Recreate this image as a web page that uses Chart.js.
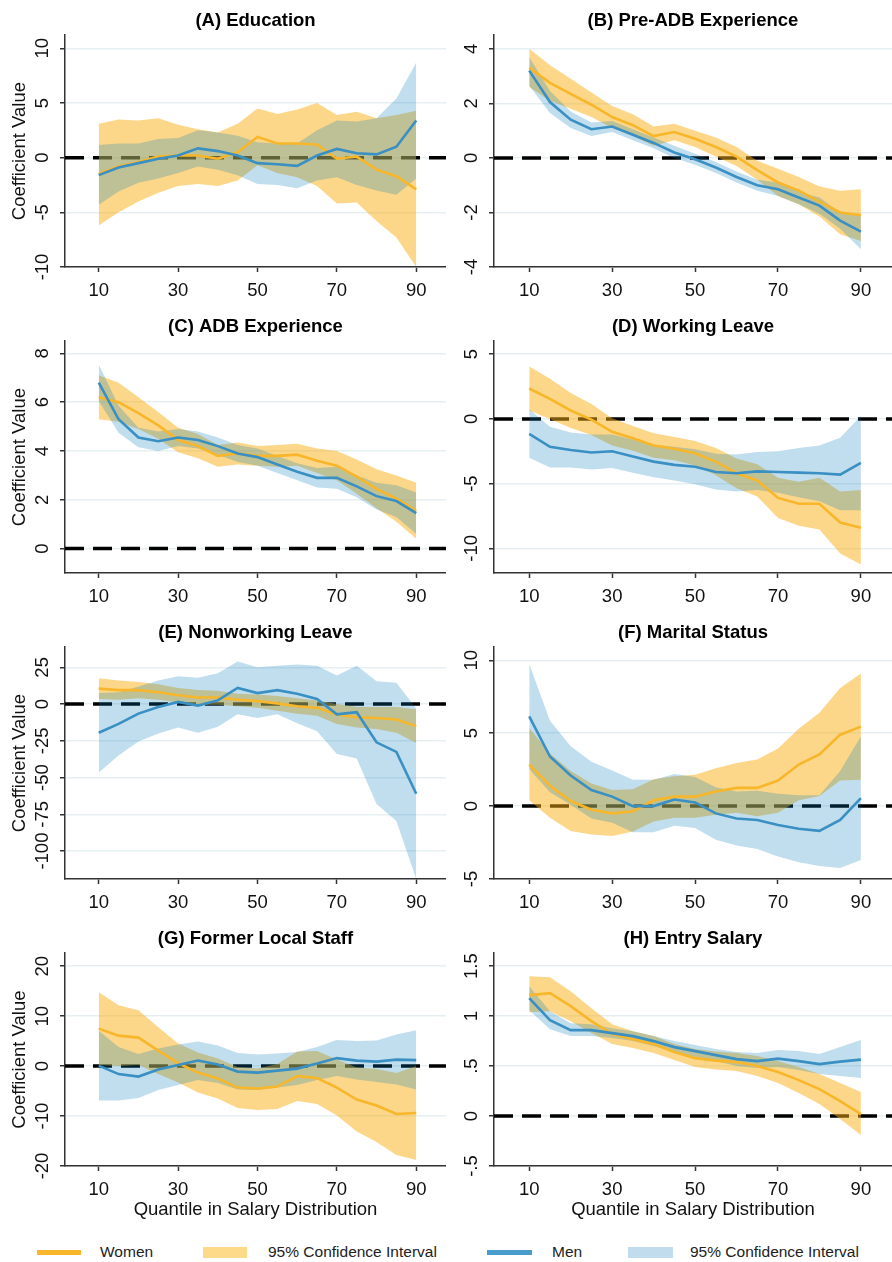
<!DOCTYPE html>
<html>
<head>
<meta charset="utf-8">
<script src="https://cdn.jsdelivr.net/npm/chart.js@4.4.1/dist/chart.umd.min.js"></script>
<style>
  body { margin: 0; background: #fff; width: 892px; height: 1262px; position: relative; overflow: hidden;
         font-family: 'Liberation Sans', Arial, sans-serif; }
  canvas { position: absolute; }
  .sw { position: absolute; }
  .lt { position: absolute; top: 1243px; font-size: 15.5px; line-height: 18px; color: #222; white-space: nowrap; }
</style>
</head>
<body>
<canvas id="pA" width="446" height="306" style="left:0;top:0"></canvas>
<canvas id="pB" width="446" height="306" style="left:446px;top:0"></canvas>
<canvas id="pC" width="446" height="306" style="left:0;top:306px"></canvas>
<canvas id="pD" width="446" height="306" style="left:446px;top:306px"></canvas>
<canvas id="pE" width="446" height="306" style="left:0;top:612px"></canvas>
<canvas id="pF" width="446" height="306" style="left:446px;top:612px"></canvas>
<canvas id="pG" width="446" height="312" style="left:0;top:918px"></canvas>
<canvas id="pH" width="446" height="312" style="left:446px;top:918px"></canvas>

<!-- legend -->
<div class="sw" style="left:37px;top:1250px;width:44px;height:5px;background:#f8b62b"></div>
<span class="lt" style="left:100px">Women</span>
<div class="sw" style="left:203px;top:1247px;width:44px;height:11px;background:#fdd98a"></div>
<span class="lt" style="left:268px">95% Confidence Interval</span>
<div class="sw" style="left:487px;top:1250px;width:45px;height:5px;background:#4a9ccc"></div>
<span class="lt" style="left:552px">Men</span>
<div class="sw" style="left:628px;top:1247px;width:45px;height:11px;background:#c1dcec"></div>
<span class="lt" style="left:690px">95% Confidence Interval</span>

<script>
// quantiles 10..90
const quantiles = [10, 15, 20, 25, 30, 35, 40, 45, 50, 55, 60, 65, 70, 75, 80, 85, 90];
const xTicks = [10, 30, 50, 70, 90];

// (A) Education
const eduW   = [-1.5, -0.8, -0.4, 0.1, 0.2, 0.2, -0.1, 0.5, 1.9, 1.3, 1.3, 1.2, -0.1, 0.1, -1.1, -1.7, -2.9];
const eduWHi = [3.1, 3.5, 3.4, 3.6, 3.0, 2.6, 2.3, 3.1, 4.5, 4.0, 4.4, 5.0, 3.9, 4.2, 3.6, 3.9, 4.3];
const eduWLo = [-6.2, -5.0, -4.0, -3.2, -2.6, -2.4, -2.6, -2.1, -0.7, -1.4, -1.8, -2.6, -4.2, -4.1, -5.8, -7.3, -10.0];
const eduM   = [-1.6, -0.9, -0.5, -0.1, 0.2, 0.85, 0.6, 0.2, -0.5, -0.6, -0.75, 0.2, 0.8, 0.4, 0.3, 1.0, 3.4];
const eduMHi = [1.15, 1.3, 1.3, 1.7, 1.8, 2.5, 2.3, 2.0, 1.4, 1.3, 1.3, 2.5, 3.4, 3.3, 3.6, 5.4, 8.7];
const eduMLo = [-4.3, -3.1, -2.3, -1.9, -1.4, -0.8, -1.1, -1.6, -2.4, -2.5, -2.8, -2.1, -1.8, -2.5, -3.0, -3.4, -1.9];
const eduTicks = [-10, -5, 0, 5, 10];
const eduLabels = ['-10', '-5', '0', '5', '10'];

// (B) Pre-ADB Experience
const preW   = [3.3, 2.75, 2.35, 1.95, 1.5, 1.2, 0.8, 0.95, 0.7, 0.4, 0.05, -0.45, -0.9, -1.2, -1.6, -2.0, -2.1];
const preWHi = [4.0, 3.4, 2.9, 2.4, 1.9, 1.6, 1.15, 1.25, 1.0, 0.75, 0.4, -0.1, -0.4, -0.7, -1.05, -1.2, -1.15];
const preWLo = [2.6, 2.1, 1.8, 1.5, 1.1, 0.8, 0.45, 0.65, 0.4, 0.05, -0.3, -0.8, -1.4, -1.7, -2.15, -2.8, -3.05];
const preM   = [3.2, 2.05, 1.4, 1.05, 1.15, 0.85, 0.55, 0.2, -0.05, -0.35, -0.7, -1.0, -1.15, -1.45, -1.75, -2.3, -2.7];
const preMHi = [3.7, 2.45, 1.7, 1.3, 1.35, 1.05, 0.75, 0.45, 0.15, -0.15, -0.5, -0.8, -0.9, -1.25, -1.45, -2.0, -2.1];
const preMLo = [2.65, 1.65, 1.1, 0.8, 0.95, 0.65, 0.35, 0.0, -0.25, -0.55, -0.9, -1.2, -1.4, -1.7, -2.05, -2.6, -3.35];
const preTicks = [-4, -2, 0, 2, 4];
const preLabels = ['-4', '-2', '0', '2', '4'];

// (C) ADB Experience
const adbW   = [6.2, 6.0, 5.55, 5.05, 4.45, 4.2, 3.8, 3.9, 3.8, 3.8, 3.85, 3.6, 3.4, 2.95, 2.45, 2.05, 1.55];
const adbWHi = [7.1, 6.8, 6.2, 5.6, 4.95, 4.7, 4.25, 4.35, 4.2, 4.25, 4.3, 4.1, 4.0, 3.65, 3.25, 3.0, 2.7];
const adbWLo = [5.3, 5.2, 4.9, 4.5, 3.95, 3.7, 3.35, 3.45, 3.4, 3.35, 3.4, 3.1, 2.8, 2.25, 1.65, 1.1, 0.4];
const adbM   = [6.8, 5.3, 4.55, 4.4, 4.55, 4.45, 4.2, 3.9, 3.75, 3.45, 3.15, 2.9, 2.9, 2.55, 2.15, 1.95, 1.45];
const adbMHi = [7.55, 5.85, 4.95, 4.8, 4.9, 4.8, 4.55, 4.25, 4.1, 3.8, 3.5, 3.3, 3.35, 3.0, 2.7, 2.6, 2.3];
const adbMLo = [6.05, 4.75, 4.15, 4.0, 4.2, 4.1, 3.85, 3.55, 3.4, 3.1, 2.8, 2.5, 2.45, 2.1, 1.6, 1.3, 0.6];
const adbTicks = [0, 2, 4, 6, 8];
const adbLabels = ['0', '2', '4', '6', '8'];

// (D) Working Leave
const wlW   = [2.35, 1.55, 0.65, -0.05, -1.0, -1.5, -2.05, -2.3, -2.65, -3.3, -4.2, -4.75, -6.1, -6.55, -6.55, -8.0, -8.4];
const wlWHi = [4.05, 3.1, 2.0, 1.15, 0.05, -0.55, -1.1, -1.4, -1.7, -2.25, -3.05, -3.5, -4.55, -4.85, -4.55, -5.6, -5.5];
const wlWLo = [0.65, 0.0, -0.7, -1.25, -2.05, -2.45, -3.0, -3.2, -3.6, -4.35, -5.35, -6.0, -7.65, -8.25, -8.55, -10.4, -11.25];
const wlM   = [-1.15, -2.15, -2.4, -2.6, -2.5, -2.9, -3.3, -3.55, -3.7, -4.1, -4.2, -4.05, -4.1, -4.15, -4.2, -4.3, -3.4];
const wlMHi = [0.75, -0.6, -1.05, -1.2, -1.2, -1.6, -2.0, -2.15, -2.35, -2.7, -2.75, -2.55, -2.5, -2.25, -2.05, -1.45, 0.25];
const wlMLo = [-3.0, -3.75, -3.75, -3.9, -3.8, -4.15, -4.5, -4.75, -5.05, -5.45, -5.6, -5.5, -5.7, -6.05, -6.35, -7.05, -7.05];
const wlTicks = [-10, -5, 0, 5];
const wlLabels = ['-10', '-5', '0', '5'];

// (E) Nonworking Leave
const nwW   = [10.5, 9.5, 9.5, 8, 6, 4.5, 4.5, 3, 2, 0.5, -1.5, -2.5, -7, -9, -9.5, -10.5, -15];
const nwWHi = [17.5, 16, 15, 13.5, 11, 9.5, 9, 7, 6.5, 5.5, 4, 2.5, 0, -2, -2, -2, -3.5];
const nwWLo = [3.5, 3, 4, 3, 1, -0.5, -0.5, -1.5, -2.5, -4.5, -6.5, -8, -13.5, -16, -17, -19.5, -26.5];
const nwM   = [-19.5, -13.5, -6.5, -2, 1.5, -1, 2.5, 11, 7.5, 9.5, 7, 3.5, -7, -5.5, -26, -32.5, -61];
const nwMHi = [7.5, 8, 12, 16, 19, 18, 21, 29, 25, 26, 27, 26, 19.5, 26, 15.5, 14.5, -3];
const nwMLo = [-46.5, -35, -25.5, -20, -16, -19.5, -15.5, -7, -9.5, -7, -13, -18.5, -34, -37, -68, -79.5, -119];
const nwTicks = [-100, -75, -50, -25, 0, 25];
const nwLabels = ['-100', '-75', '-50', '-25', '0', '25'];

// (F) Marital Status
const msW   = [2.85, 1.4, 0.35, -0.25, -0.5, -0.35, 0.4, 0.65, 0.65, 1.0, 1.25, 1.25, 1.75, 2.85, 3.55, 4.9, 5.45];
const msWHi = [5.35, 3.6, 2.4, 1.55, 1.1, 1.15, 1.85, 2.05, 2.15, 2.6, 2.95, 3.2, 3.95, 5.3, 6.4, 8.1, 9.1];
const msWLo = [0.4, -0.8, -1.7, -1.95, -2.05, -1.75, -1.05, -0.8, -0.8, -0.6, -0.45, -0.7, -0.45, 0.4, 0.7, 1.75, 1.8];
const msM   = [6.15, 3.4, 2.1, 1.1, 0.65, 0.0, 0.0, 0.45, 0.25, -0.5, -0.85, -0.95, -1.3, -1.55, -1.7, -0.95, 0.55];
const msMHi = [9.75, 5.85, 4.1, 3.05, 2.45, 1.8, 1.8, 2.2, 2.0, 1.3, 1.0, 1.05, 0.85, 0.75, 0.75, 2.4, 4.8];
const msMLo = [2.55, 0.95, 0.1, -0.85, -1.15, -1.8, -1.8, -1.35, -1.5, -2.3, -2.7, -2.95, -3.45, -3.85, -4.1, -4.25, -3.7];
const msTicks = [-5, 0, 5, 10];
const msLabels = ['-5', '0', '5', '10'];

// (G) Former Local Staff
const flW   = [7.5, 6.1, 5.7, 3.1, 0.6, -1.3, -2.5, -4.3, -4.5, -4.1, -2.0, -2.4, -4.3, -6.7, -7.9, -9.6, -9.4];
const flWHi = [14.8, 12.2, 11.2, 7.8, 4.5, 2.7, 1.5, -0.2, -0.5, 0.4, 2.9, 3.0, 1.3, -0.3, -0.6, -1.4, 0.0];
const flWLo = [0.2, 0.0, 0.2, -1.6, -3.3, -5.3, -6.5, -8.4, -8.8, -8.6, -7.0, -7.6, -9.9, -13.1, -15.2, -17.8, -18.8];
const flM   = [0.1, -1.6, -2.1, -0.7, 0.2, 1.1, 0.3, -1.1, -1.3, -0.9, -0.5, 0.5, 1.6, 1.1, 0.9, 1.3, 1.2];
const flMHi = [7.1, 3.8, 2.4, 3.5, 4.3, 4.9, 4.1, 2.6, 2.3, 2.5, 2.8, 3.8, 5.2, 5.0, 5.1, 6.3, 7.2];
const flMLo = [-6.9, -6.9, -6.4, -4.8, -3.8, -2.8, -3.4, -4.7, -4.8, -4.3, -3.8, -2.8, -2.0, -2.7, -3.2, -3.7, -4.7];
const flTicks = [-20, -10, 0, 10, 20];
const flLabels = ['-20', '-10', '0', '10', '20'];

// (H) Entry Salary
const esW   = [1.21, 1.23, 1.1, 0.95, 0.82, 0.77, 0.72, 0.64, 0.58, 0.555, 0.54, 0.5, 0.44, 0.36, 0.27, 0.15, 0.02];
const esWHi = [1.4, 1.39, 1.25, 1.08, 0.92, 0.85, 0.8, 0.72, 0.67, 0.645, 0.63, 0.6, 0.55, 0.49, 0.42, 0.33, 0.24];
const esWLo = [1.04, 1.05, 0.95, 0.83, 0.72, 0.68, 0.63, 0.56, 0.49, 0.465, 0.45, 0.4, 0.33, 0.23, 0.12, -0.03, -0.19];
const esM   = [1.18, 0.96, 0.86, 0.86, 0.83, 0.8, 0.75, 0.69, 0.65, 0.61, 0.57, 0.55, 0.575, 0.55, 0.52, 0.545, 0.565];
const esMHi = [1.3, 1.05, 0.93, 0.92, 0.88, 0.85, 0.8, 0.75, 0.71, 0.67, 0.64, 0.63, 0.66, 0.65, 0.62, 0.69, 0.76];
const esMLo = [1.06, 0.87, 0.8, 0.8, 0.78, 0.75, 0.7, 0.64, 0.59, 0.55, 0.5, 0.48, 0.49, 0.46, 0.42, 0.4, 0.38];
const esTicks = [-0.5, 0, 0.5, 1, 1.5];
const esLabels = ['-.5', '0', '.5', '1', '1.5'];

const FONT = "'Liberation Sans', Arial, sans-serif";
Chart.defaults.font.family = FONT;

const womenLine = '#f8b62b';
const womenCI = 'rgba(250, 175, 20, 0.5)';
const menLine = '#3a8fc3';
const menCI = 'rgba(7, 123, 187, 0.25)';

const xMin = 1.5, xMax = 97.5;

const pts = arr => quantiles.map((q, i) => ({ x: q, y: arr[i] }));

function makeChart(id, title, w, wHi, wLo, m, mHi, mLo, yTicks, yLabels, yMin, yMax, left, bottom) {
    // rotated y tick labels, like the original
    const yLabelPlugin = {
        id: 'yLabels' + id,
        afterDraw(chart) {
            const s = chart.scales.y;
            const ctx = chart.ctx;
            ctx.save();
            ctx.font = '18.5px ' + FONT;
            ctx.fillStyle = '#111';
            ctx.textAlign = 'center';
            ctx.textBaseline = 'middle';
            s.ticks.forEach((t, i) => {
                ctx.save();
                ctx.translate(s.right - 22, s.getPixelForValue(t.value));
                ctx.rotate(-Math.PI / 2);
                ctx.fillText(yLabels[i], 0, 0);
                ctx.restore();
            });
            ctx.restore();
        }
    };

    const noLine = 'rgba(0,0,0,0)';

    new Chart(document.getElementById(id), {
        type: 'line',
        data: {
            datasets: [
                { data: [{ x: xMin, y: 0 }, { x: xMax, y: 0 }], borderColor: '#000', borderWidth: 3.5,
                  borderDash: [19, 9], pointRadius: 0, fill: false, order: 5 },
                { data: pts(wHi), borderColor: noLine, borderWidth: 0, pointRadius: 0, fill: '+1',
                  backgroundColor: womenCI, order: 4 },
                { data: pts(wLo), borderColor: noLine, borderWidth: 0, pointRadius: 0, fill: false, order: 4 },
                { data: pts(mHi), borderColor: noLine, borderWidth: 0, pointRadius: 0, fill: '+1',
                  backgroundColor: menCI, order: 3 },
                { data: pts(mLo), borderColor: noLine, borderWidth: 0, pointRadius: 0, fill: false, order: 3 },
                { data: pts(w), borderColor: womenLine, borderWidth: 2.6, pointRadius: 0, fill: false, order: 2 },
                { data: pts(m), borderColor: menLine, borderWidth: 2.6, pointRadius: 0, fill: false, order: 1 }
            ]
        },
        options: {
            responsive: false,
            animation: false,
            events: [],
            layout: { padding: 0 },
            plugins: {
                legend: { display: false },
                tooltip: { enabled: false },
                title: {
                    display: true, text: title, fullSize: false, color: '#000',
                    font: { size: 18.5, weight: 'bold' },
                    padding: { top: 10, bottom: 3 }
                }
            },
            scales: {
                x: {
                    type: 'linear', min: xMin, max: xMax,
                    afterBuildTicks: s => { s.ticks = xTicks.map(v => ({ value: v })); },
                    afterFit: s => { s.height = bottom ? 64 : 39; },
                    grid: { drawOnChartArea: false, drawTicks: true, tickLength: 5, tickColor: '#333', tickWidth: 1.5 },
                    border: { color: '#333', width: 1.5 },
                    ticks: { font: { size: 18.5 }, color: '#111', padding: 8, maxRotation: 0, autoSkip: false },
                    title: {
                        display: bottom, text: 'Quantile in Salary Distribution', color: '#111',
                        font: { size: 18.5 }, padding: { top: 0, bottom: 9 }
                    }
                },
                y: {
                    type: 'linear', min: yMin, max: yMax,
                    afterBuildTicks: s => { s.ticks = yTicks.map(v => ({ value: v })); },
                    afterFit: s => { s.width = left ? 65 : 48; },
                    grid: { color: '#e6eff2', lineWidth: 1.5, tickLength: 5, tickColor: '#333', tickWidth: 1.5 },
                    border: { color: '#333', width: 1.5 },
                    ticks: { display: false },
                    title: {
                        display: left, text: 'Coefficient Value', color: '#111',
                        font: { size: 18.5 }, padding: { top: 9, bottom: 0 }
                    }
                }
            }
        },
        plugins: [yLabelPlugin]
    });
}

makeChart('pA', '(A) Education', eduW, eduWHi, eduWLo, eduM, eduMHi, eduMLo, eduTicks, eduLabels, -10, 11.2, true, false);
makeChart('pB', '(B) Pre-ADB Experience', preW, preWHi, preWLo, preM, preMHi, preMLo, preTicks, preLabels, -4, 4.5, false, false);
makeChart('pC', '(C) ADB Experience', adbW, adbWHi, adbWLo, adbM, adbMHi, adbMLo, adbTicks, adbLabels, -1, 8.5, true, false);
makeChart('pD', '(D) Working Leave', wlW, wlWHi, wlWLo, wlM, wlMHi, wlMLo, wlTicks, wlLabels, -11.9, 6, false, false);
makeChart('pE', '(E) Nonworking Leave', nwW, nwWHi, nwWLo, nwM, nwMHi, nwMLo, nwTicks, nwLabels, -119, 38.7, true, false);
makeChart('pF', '(F) Marital Status', msW, msWHi, msWLo, msM, msMHi, msMLo, msTicks, msLabels, -5, 10.9, false, false);
makeChart('pG', '(G) Former Local Staff', flW, flWHi, flWLo, flM, flMHi, flMLo, flTicks, flLabels, -20, 22.6, true, true);
makeChart('pH', '(H) Entry Salary', esW, esWHi, esWLo, esM, esMHi, esMLo, esTicks, esLabels, -0.5, 1.63, false, true);
</script>
</body>
</html>
